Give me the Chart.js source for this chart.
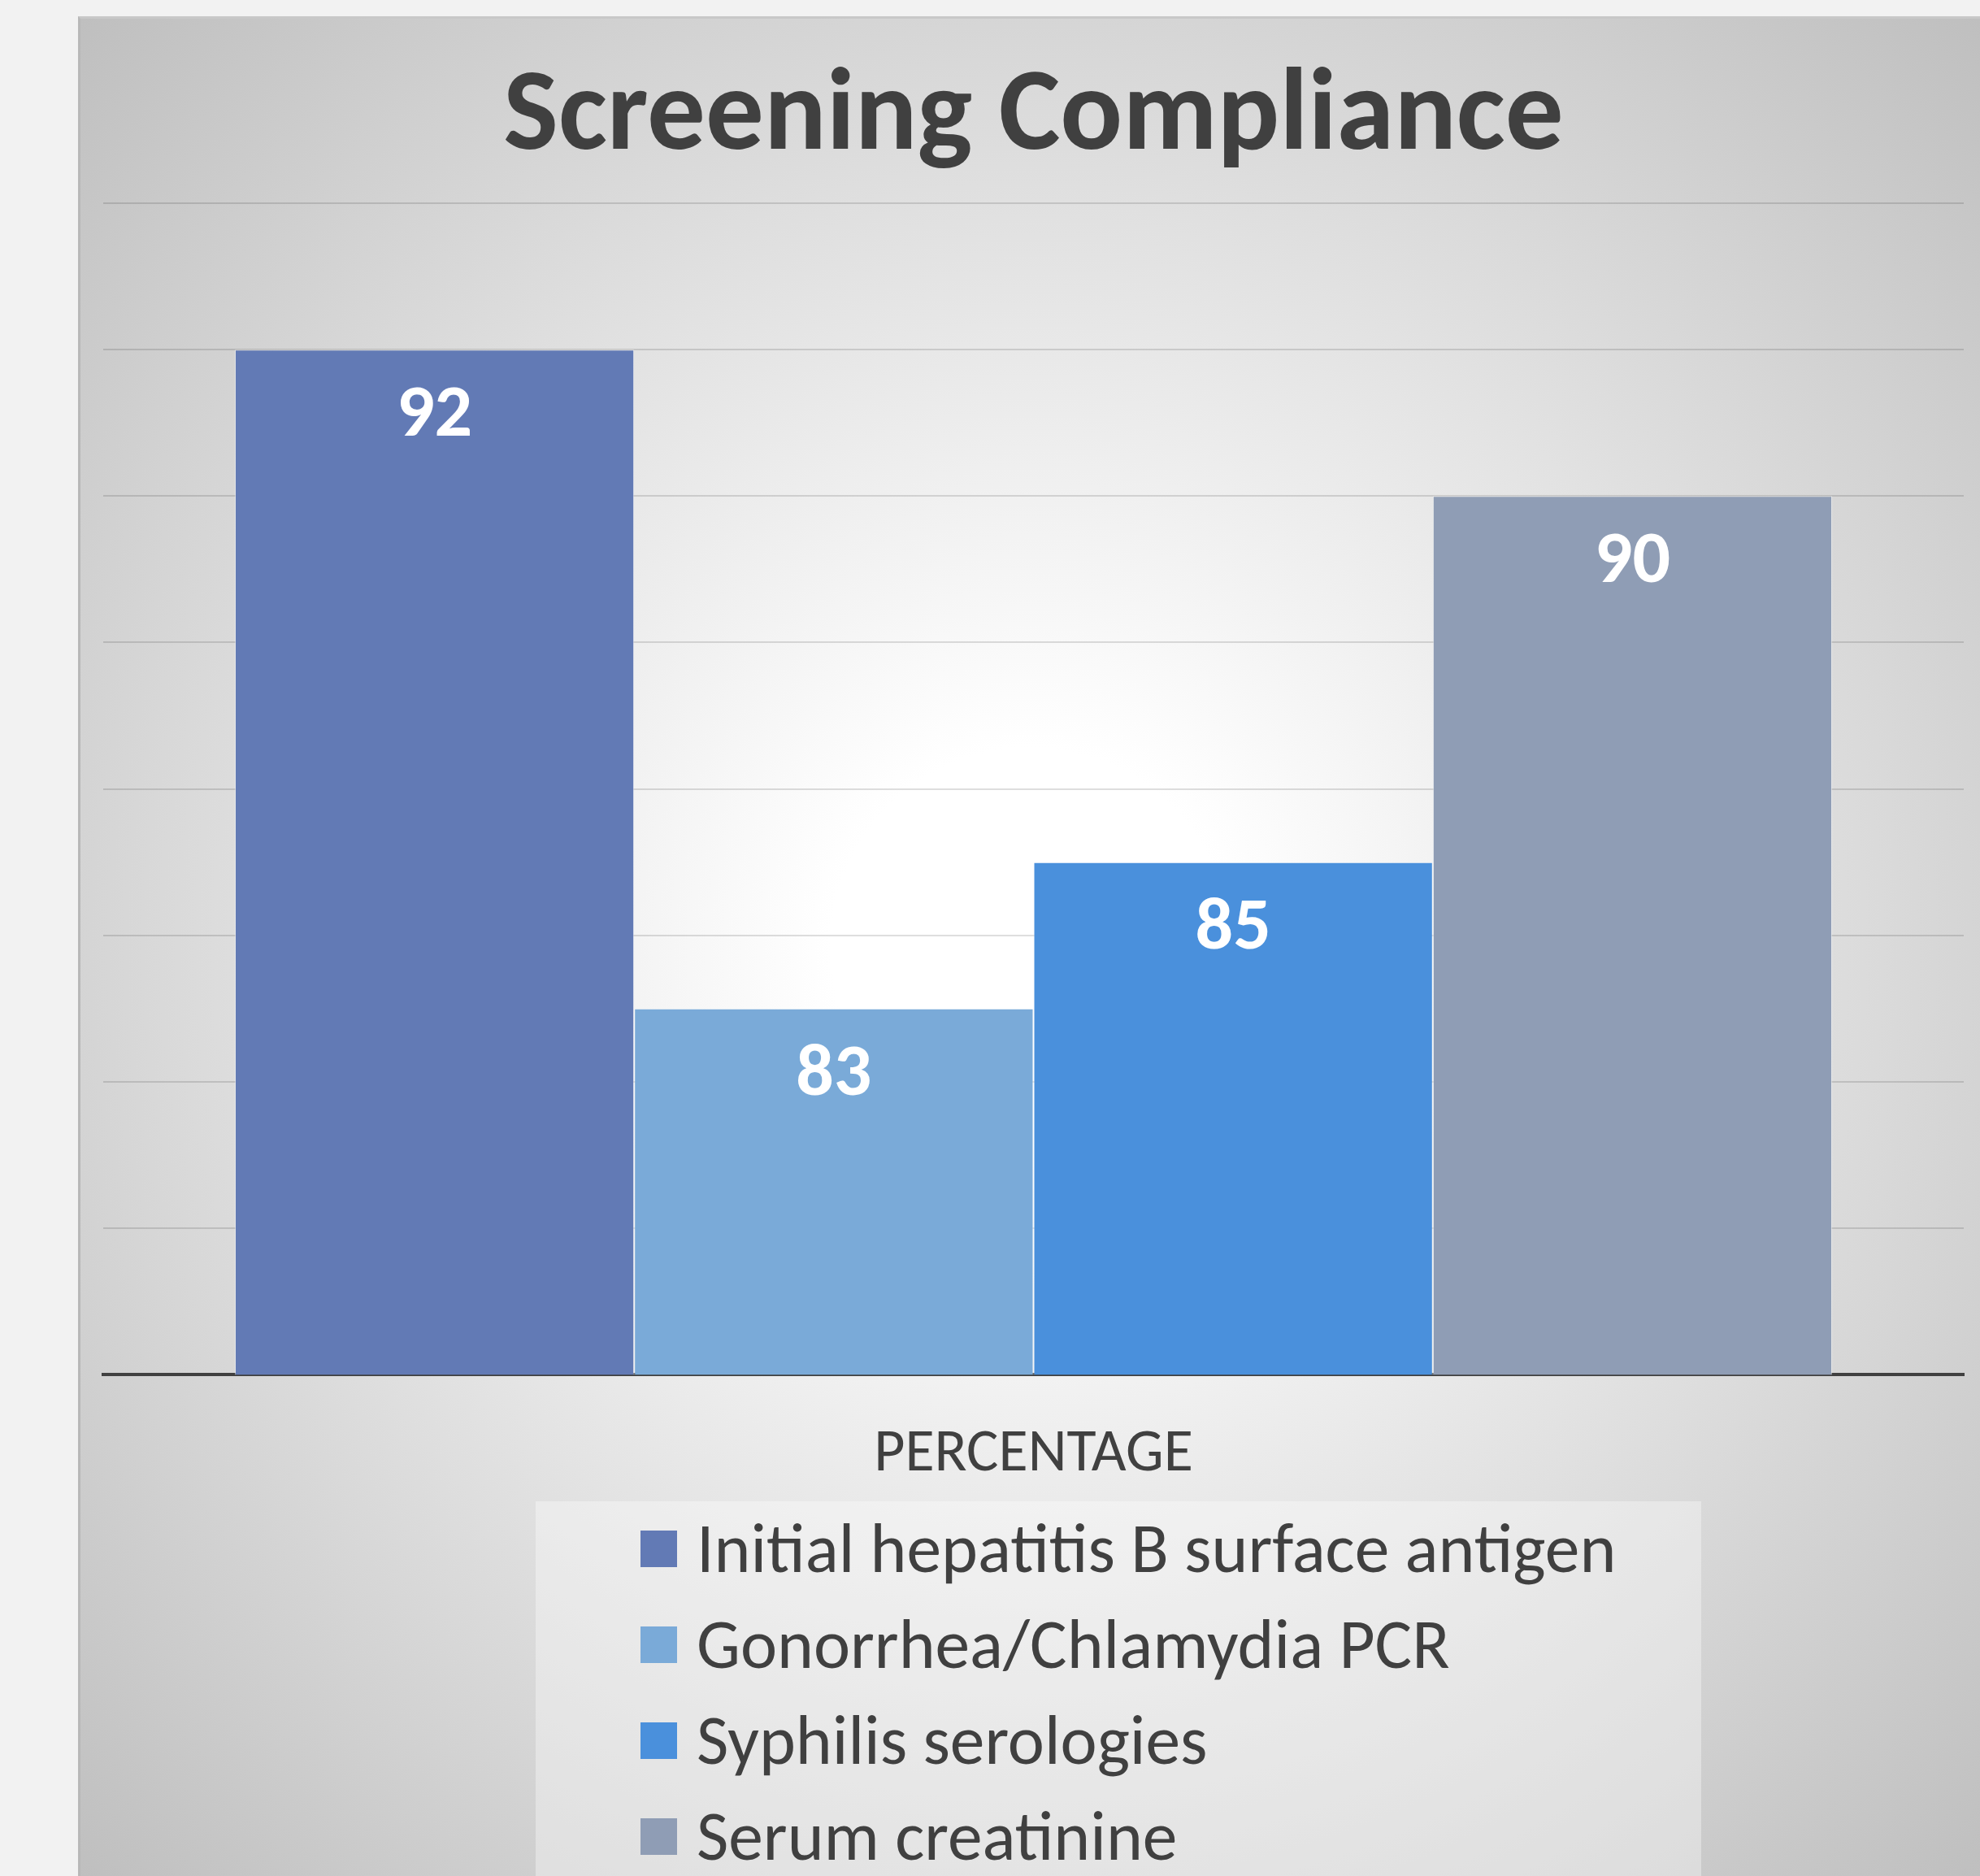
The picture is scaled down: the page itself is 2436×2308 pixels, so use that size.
<!DOCTYPE html>
<html>
<head>
<meta charset="utf-8">
<script src="https://cdn.jsdelivr.net/npm/chart.js@4.4.1/dist/chart.umd.min.js"></script>
<style>
  html, body { margin:0; padding:0; width:2436px; height:2308px; overflow:hidden; background:#f2f2f2; }
  #panel { position:absolute; left:96px; top:20px; width:2340px; height:2288px; box-sizing:border-box;
    border-left:3px solid #b8b8b8; border-top:3px solid #c8c8c8;
    background: radial-gradient(circle farthest-corner at 50% 50%, #ffffff 0%, #ffffff 15%, #bfbfbf 100%); }
  #chartCanvas { position:absolute; left:0; top:0; }
  #legendBox { position:absolute; left:659px; top:1847px; width:1434px; height:461px; background:rgba(255,255,255,0.35); }
  .legItem { position:absolute; left:788px; height:120px; display:flex; align-items:center; white-space:nowrap; color:#404040;
    font-variant-ligatures:none; font-feature-settings:"liga" 0, "clig" 0; }
  .legMark { width:45px; height:45px; margin-right:24px; flex:none; }
</style>
</head>
<body>
<div id="panel"></div>
<div id="legendBox"></div>
<canvas id="chartCanvas" width="2436" height="2308"></canvas>
<div id="legend"></div>
<script>
// ---- data ----
const chartTitle = 'Screening Compliance';
const categories = ['PERCENTAGE'];
const seriesNames = [
  'Initial hepatitis B surface antigen',
  'Gonorrhea/Chlamydia PCR',
  'Syphilis serologies',
  'Serum creatinine'
];
const seriesValues = [[92], [83], [85], [90]];
const yMin = 78, yMax = 94, yStep = 2;

// ---- styles ----
const seriesColors = ['#627ab5', '#7aaad8', '#4a90dc', '#8f9db5'];
const FONT = 'Carlito, Lato, sans-serif';
const TEXT = '#404040';

const datasets = seriesNames.map((name, i) => ({
  label: name,
  data: seriesValues[i],
  backgroundColor: seriesColors[i],
  borderColor: 'rgba(255,255,255,0.5)',
  borderWidth: 1,
  categoryPercentage: 0.8585,
  barPercentage: 1.0
}));

const valueLabels = {
  id: 'valueLabels',
  afterDraw(chart) {
    const ctx = chart.ctx;
    ctx.save();
    ctx.fillStyle = '#ffffff';
    ctx.font = 'bold 92px ' + FONT;
    ctx.textAlign = 'center';
    ctx.textBaseline = 'alphabetic';
    chart.data.datasets.forEach((ds, i) => {
      chart.getDatasetMeta(i).data.forEach((bar, j) => {
        ctx.fillText(String(ds.data[j]), bar.x, bar.y + 106);
      });
    });
    ctx.restore();
  }
};

const chart = new Chart(document.getElementById('chartCanvas'), {
  type: 'bar',
  data: { labels: categories, datasets },
  options: {
    responsive: false,
    animation: false,
    devicePixelRatio: 1,
    layout: { padding: { left: 127, right: 20, top: 0, bottom: 418 } },
    plugins: {
      legend: { display: false },
      tooltip: { enabled: false },
      title: {
        display: true, text: chartTitle, color: TEXT,
        font: { family: FONT, size: 143, weight: 'bold', lineHeight: 1.2 },
        padding: { top: 61, bottom: 17.4 }
      }
    },
    scales: {
      x: {
        grid: { display: false, drawTicks: false },
        border: { display: true, color: '#404040', width: 4 },
        ticks: { color: TEXT, font: { family: FONT, size: 74 }, padding: 55 }
      },
      y: {
        min: yMin, max: yMax,
        z: 1,
        ticks: { display: false, stepSize: yStep },
        grid: { color: 'rgba(0,0,0,0.13)', lineWidth: 2, drawTicks: false },
        border: { display: false }
      }
    }
  },
  plugins: [valueLabels]
});

// HTML legend built from the series
const legendEl = document.getElementById('legend');
const rowCenters = [1905, 2023, 2141, 2259];
seriesNames.forEach((name, i) => {
  const item = document.createElement('div');
  item.className = 'legItem';
  item.style.top = (rowCenters[i] - 60) + 'px';
  item.style.font = '85.5px ' + FONT;
  const mark = document.createElement('div');
  mark.className = 'legMark';
  mark.style.background = seriesColors[i];
  const txt = document.createElement('span');
  txt.textContent = name;
  item.appendChild(mark); item.appendChild(txt);
  legendEl.appendChild(item);
});
</script>
</body>
</html>
